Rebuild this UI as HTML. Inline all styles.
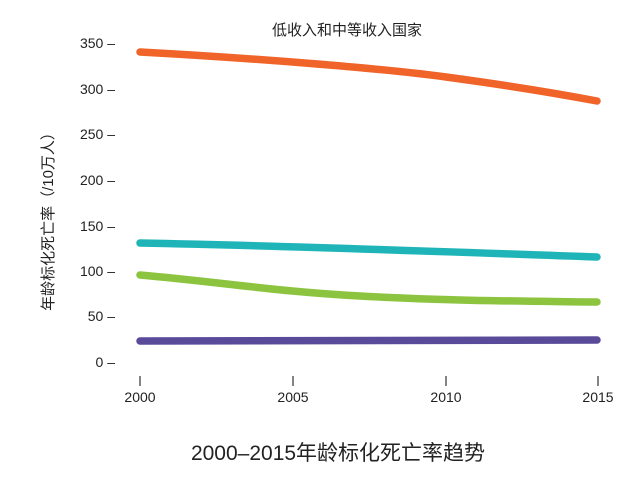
<!DOCTYPE html>
<html><head><meta charset="utf-8"><style>
html,body{margin:0;padding:0;background:#fff;}
svg text{font-family:"Liberation Sans","Noto Sans CJK SC",sans-serif;fill:#222;}
</style></head><body>
<svg width="640" height="474" viewBox="0 0 640 474" xmlns="http://www.w3.org/2000/svg">
<rect width="640" height="474" fill="#fff"/>
<text x="347" y="35" font-size="15" text-anchor="middle">低收入和中等收入国家</text>
<text transform="translate(53,218) rotate(-90)" font-size="15" text-anchor="middle">年龄标化死亡率（/10万人）</text>
<g font-size="14" text-anchor="end">
<text x="115" y="48">350 –</text>
<text x="115" y="94">300 –</text>
<text x="115" y="139">250 –</text>
<text x="115" y="185">200 –</text>
<text x="115" y="231">150 –</text>
<text x="115" y="276">100 –</text>
<text x="115" y="321">50 –</text>
<text x="115" y="367">0 –</text>
</g>
<g stroke="#333" stroke-width="1.2">
<line x1="140" y1="376" x2="140" y2="386"/>
<line x1="293" y1="376" x2="293" y2="386"/>
<line x1="446" y1="376" x2="446" y2="386"/>
<line x1="598" y1="376" x2="598" y2="386"/>
</g>
<g font-size="14" text-anchor="middle">
<text x="140" y="402">2000</text>
<text x="293" y="402">2005</text>
<text x="446" y="402">2010</text>
<text x="598" y="402">2015</text>
</g>
<text x="338" y="460" font-size="21" text-anchor="middle">2000–2015年龄标化死亡率趋势</text>
<g fill="none" stroke-width="7.5" stroke-linecap="round">
<path d="M140,52 C250,58 380,68 446,77 C520,87 560,94 597,101" stroke="#f0642a"/>
<path d="M140,243 C300,246 450,252 597,257" stroke="#1fb5b8"/>
<path d="M140,275 C220,282 280,292 360,296 C450,301 520,301 597,302" stroke="#8cc43f"/>
<path d="M140,341 L597,340" stroke="#5a4a9a"/>
</g>
</svg>
</body></html>
